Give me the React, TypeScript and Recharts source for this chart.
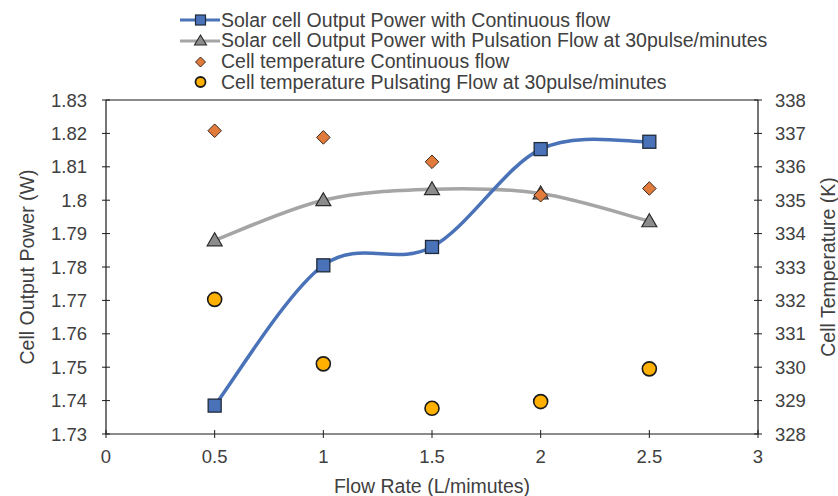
import React from 'react';
import { ComposedChart, Line, XAxis, YAxis, ReferenceLine } from 'recharts';

const flowRates = [0.5, 1, 1.5, 2, 2.5];
const powerContinuous = [1.7385, 1.7805, 1.786, 1.8153, 1.8175];
const powerPulsation = [1.788, 1.8, 1.8033, 1.802, 1.7937];
const tempContinuous = [337.08, 336.88, 336.15, 335.15, 335.35];
const tempPulsating = [332.03, 330.1, 328.77, 328.97, 329.95];

const xTicks = [0, 0.5, 1, 1.5, 2, 2.5, 3];
const leftTicks = [1.73, 1.74, 1.75, 1.76, 1.77, 1.78, 1.79, 1.8, 1.81, 1.82, 1.83];
const rightTicks = [328, 329, 330, 331, 332, 333, 334, 335, 336, 337, 338];

const seriesNames = [
  'Solar cell Output Power with Continuous flow',
  'Solar cell Output Power with Pulsation Flow at 30pulse/minutes',
  'Cell temperature Continuous flow',
  'Cell temperature Pulsating Flow at 30pulse/minutes',
];

const xTitle = 'Flow Rate (L/mimutes)';
const leftTitle = 'Cell Output Power (W)';
const rightTitle = 'Cell Temperature (K)';

const data = flowRates.map((x, i) => ({
  x,
  pc: powerContinuous[i],
  pp: powerPulsation[i],
  tc: tempContinuous[i],
  tp: tempPulsating[i],
}));

const BLUE = '#4A72B8';
const GRAY = '#A5A5A5';
const ORANGE = '#E07B3C';
const YELLOW = '#FFB000';
const TEXT = '#404040';
const AXIS = '#1a1a1a';
const FONT = '"Liberation Sans", Arial, sans-serif';
const TICK_FS = 18.5;
const TITLE_FS = 19.5;

// Excel-like smooth curve (Catmull-Rom based bezier)
const excelCurve: any = (context: any) => {
  let pts: number[][] = [];
  return {
    areaStart() {},
    areaEnd() {},
    lineStart() {
      pts = [];
    },
    point(x: number, y: number) {
      pts.push([+x, +y]);
    },
    lineEnd() {
      if (!pts.length) return;
      context.moveTo(pts[0][0], pts[0][1]);
      for (let i = 0; i < pts.length - 1; i++) {
        const p0 = pts[i - 1] || pts[i];
        const p1 = pts[i];
        const p2 = pts[i + 1];
        const p3 = pts[i + 2] || p2;
        const c1x = p1[0] + (p2[0] - p0[0]) / 6;
        const c1y = p1[1] + (p2[1] - p0[1]) / 6;
        const c2x = p2[0] - (p3[0] - p1[0]) / 6;
        const c2y = p2[1] - (p3[1] - p1[1]) / 6;
        context.bezierCurveTo(c1x, c1y, c2x, c2y, p2[0], p2[1]);
      }
    },
  };
};

const Square = (p: any) => (
  <rect key={`sq-${p.index}`} x={p.cx - 6.5} y={p.cy - 6.5} width={13} height={13} fill={BLUE} stroke="#1f2a3a" strokeWidth={1.3} />
);
const Triangle = (p: any) => (
  <path key={`tr-${p.index}`} d={`M${p.cx},${p.cy - 7.5} L${p.cx + 7.5},${p.cy + 5.5} L${p.cx - 7.5},${p.cy + 5.5} Z`} fill="#8C8C8C" stroke="#2a2a2a" strokeWidth={1.2} />
);
const Diamond = (p: any) => (
  <path key={`dm-${p.index}`} d={`M${p.cx},${p.cy - 6.8} L${p.cx + 6.8},${p.cy} L${p.cx},${p.cy + 6.8} L${p.cx - 6.8},${p.cy} Z`} fill={ORANGE} stroke="#3a2a20" strokeWidth={1} />
);
const Circle = (p: any) => (
  <circle key={`ci-${p.index}`} cx={p.cx} cy={p.cy} r={7} fill={YELLOW} stroke="#1a1a1a" strokeWidth={1.6} />
);

const LeftTick = (p: any) => (
  <g>
    <line x1={p.x - 4} x2={p.x + 4} y1={p.y} y2={p.y} stroke={AXIS} strokeWidth={1} />
    <text x={p.x - 19} y={p.y} dy="0.36em" textAnchor="end" fill={TEXT} fontSize={TICK_FS} fontFamily={FONT}>
      {String(p.payload.value)}
    </text>
  </g>
);
const RightTick = (p: any) => (
  <g>
    <line x1={p.x - 4} x2={p.x + 4} y1={p.y} y2={p.y} stroke={AXIS} strokeWidth={1} />
    <text x={p.x + 17} y={p.y} dy="0.36em" textAnchor="start" fill={TEXT} fontSize={TICK_FS} fontFamily={FONT}>
      {String(p.payload.value)}
    </text>
  </g>
);
const BottomTick = (p: any) => (
  <g>
    <line x1={p.x} x2={p.x} y1={p.y - 4} y2={p.y + 4} stroke={AXIS} strokeWidth={1} />
    <text x={p.x} y={p.y + 22} dy="0.36em" textAnchor="middle" fill={TEXT} fontSize={TICK_FS} fontFamily={FONT}>
      {String(p.payload.value)}
    </text>
  </g>
);

const LegendIcon = ({ kind }: { kind: number }) => (
  <svg width={41} height={20} style={{ display: 'block', flex: 'none' }}>
    {kind === 0 && (
      <g>
        <line x1={0} x2={40} y1={10} y2={10} stroke={BLUE} strokeWidth={3} />
        <rect x={15.5} y={5} width={10} height={10} fill={BLUE} stroke="#1f2a3a" strokeWidth={1.2} />
      </g>
    )}
    {kind === 1 && (
      <g>
        <line x1={0} x2={40} y1={10} y2={10} stroke={GRAY} strokeWidth={3} />
        <path d="M20.5,4 L26.5,14 L14.5,14 Z" fill="#8C8C8C" stroke="#2a2a2a" strokeWidth={1.1} />
      </g>
    )}
    {kind === 2 && <path d="M20.5,5 L25.5,10 L20.5,15 L15.5,10 Z" fill={ORANGE} stroke="#3a2a20" strokeWidth={1} />}
    {kind === 3 && <circle cx={20.5} cy={10} r={5} fill={YELLOW} stroke="#1a1a1a" strokeWidth={1.8} />}
  </svg>
);

export default function App() {
  return (
    <div style={{ position: 'absolute', left: 0, top: 0, width: 838, height: 496, background: '#fff' }}>
      <ComposedChart
        width={838}
        height={496}
        data={data}
        margin={{ top: 100, right: 0, bottom: 0, left: 0 }}
      >
        <XAxis
          dataKey="x"
          type="number"
          domain={[0, 3]}
          ticks={xTicks}
          interval={0}
          axisLine={{ stroke: AXIS, strokeWidth: 1.2 }}
          tickLine={false}
          tickSize={0}
          tickMargin={0}
          tick={<BottomTick />}
          height={62}
          label={{ value: xTitle, position: 'insideBottom', offset: 3, fill: TEXT, fontSize: TITLE_FS, fontFamily: FONT }}
        />
        <YAxis
          yAxisId="left"
          orientation="left"
          domain={[1.73, 1.83]}
          ticks={leftTicks}
          interval={0}
          width={106}
          axisLine={{ stroke: AXIS, strokeWidth: 1.2 }}
          tickLine={false}
          tickSize={0}
          tickMargin={0}
          tick={<LeftTick />}
          label={{ value: leftTitle, angle: -90, position: 'insideLeft', offset: 27, fill: TEXT, fontSize: TITLE_FS, fontFamily: FONT, style: { textAnchor: 'middle' } }}
        />
        <YAxis
          yAxisId="right"
          orientation="right"
          domain={[328, 338]}
          ticks={rightTicks}
          interval={0}
          width={80}
          axisLine={{ stroke: AXIS, strokeWidth: 1.2 }}
          tickLine={false}
          tickSize={0}
          tickMargin={0}
          tick={<RightTick />}
          label={{ value: rightTitle, angle: -90, position: 'insideRight', offset: 10, fill: TEXT, fontSize: TITLE_FS, fontFamily: FONT, style: { textAnchor: 'middle' } }}
        />
        <ReferenceLine yAxisId="left" y={1.83} stroke={AXIS} strokeWidth={1.2} />
        <Line
          yAxisId="left"
          dataKey="pp"
          name={seriesNames[1]}
          type={excelCurve}
          stroke={GRAY}
          strokeWidth={3.5}
          dot={Triangle}
          activeDot={false}
          isAnimationActive={false}
        />
        <Line
          yAxisId="left"
          dataKey="pc"
          name={seriesNames[0]}
          type={excelCurve}
          stroke={BLUE}
          strokeWidth={3.5}
          dot={Square}
          activeDot={false}
          isAnimationActive={false}
        />
        <Line
          yAxisId="right"
          dataKey="tc"
          name={seriesNames[2]}
          stroke="none"
          dot={Diamond}
          activeDot={false}
          isAnimationActive={false}
        />
        <Line
          yAxisId="right"
          dataKey="tp"
          name={seriesNames[3]}
          stroke="none"
          dot={Circle}
          activeDot={false}
          isAnimationActive={false}
        />
      </ComposedChart>
      <div style={{ position: 'absolute', left: 180, top: 9.6, fontFamily: FONT, fontSize: TITLE_FS, color: TEXT }}>
        {seriesNames.map((n, i) => (
          <div key={n} style={{ display: 'flex', alignItems: 'center', height: 20.8, whiteSpace: 'nowrap' }}>
            <LegendIcon kind={i} />
            <span>{n}</span>
          </div>
        ))}
      </div>
    </div>
  );
}
